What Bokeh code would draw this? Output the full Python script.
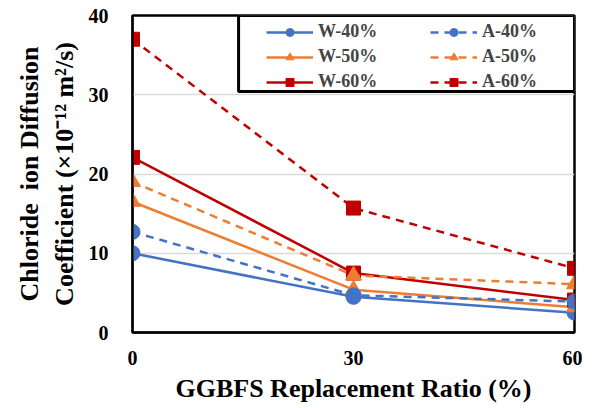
from bokeh.plotting import figure
from bokeh.models import Range1d, Legend, LegendItem, FixedTicker, BoxAnnotation
from bokeh.embed import file_html
from bokeh.resources import INLINE

x = [0, 30, 60]
w40 = [10.0, 4.5, 2.5]
a40 = [12.7, 4.7, 3.9]
w50 = [16.5, 5.4, 3.2]
a50 = [19.0, 7.2, 6.1]
w60 = [22.1, 7.5, 4.1]
a60 = [37.0, 15.7, 8.1]

blue = "#4472C4"
orange = "#ED7D31"
red = "#C00000"

p = figure(width=582, height=406, output_backend="svg", toolbar_location=None,
           x_range=Range1d(0, 60), y_range=Range1d(0, 40),
           min_border_left=132, min_border_right=8, min_border_top=15, min_border_bottom=74)

font = "Liberation Serif"
items = []
series = [
    ("W-40%", w40, blue, "circle", "solid", 15),
    ("W-50%", w50, orange, "triangle", "solid", 16),
    ("W-60%", w60, red, "square", "solid", 14),
    ("A-40%", a40, blue, "circle", "8 6", 15),
    ("A-50%", a50, orange, "triangle", "8 6", 16),
    ("A-60%", a60, red, "square", "8 6", 14),
]
for name, ys, c, m, dash, sz in series:
    l = p.line(x, ys, line_color=c, line_width=2.5, line_dash=dash)
    s = p.scatter(x, ys, marker=m, size=sz, fill_color=c, line_color=c)
    items.append(LegendItem(label=name, renderers=[l, s]))

box = BoxAnnotation(left=14.4, right=60, bottom=30.4, top=40,
                    fill_color="white", fill_alpha=1.0,
                    line_color="black", line_width=3, line_alpha=1.0)
p.add_layout(box)

legend = Legend(items=items, ncols=2, location=(134, 240))
legend.label_text_font = font
legend.label_text_font_style = "bold"
legend.label_text_font_size = "18px"
legend.border_line_color = None
legend.background_fill_alpha = 0
legend.margin = 0
legend.padding = 4
legend.spacing = 4
legend.glyph_width = 47
legend.glyph_height = 20
legend.label_height = 20
legend.label_standoff = 5
legend.label_width = 108
p.add_layout(legend)

p.outline_line_color = "black"
p.outline_line_width = 2.5
p.xgrid.grid_line_color = None
p.ygrid.grid_line_color = "#d9d9d9"
p.ygrid.grid_line_width = 1.5

p.xaxis.ticker = FixedTicker(ticks=[0, 30, 60])
p.yaxis.ticker = FixedTicker(ticks=[0, 10, 20, 30, 40])
for ax in (p.xaxis[0], p.yaxis[0]):
    ax.axis_line_color = "black"
    ax.axis_line_width = 2
    ax.major_tick_line_color = None
    ax.minor_tick_line_color = None
    ax.major_label_text_font = font
    ax.major_label_text_font_style = "bold"
    ax.major_label_text_font_size = "20px"
    ax.axis_label_text_font = font
    ax.axis_label_text_font_style = "bold"
    ax.axis_label_text_font_size = "26px"
    ax.axis_label_text_color = "black"
    ax.major_label_text_color = "black"

p.xaxis.axis_label = "GGBFS Replacement Ratio (%)"
p.yaxis.axis_label = "Chloride\u00a0 ion Diffusion\nCoefficient (\u00d710\u207b\u00b9\u00b2 m\u00b2/s)"
p.yaxis.axis_label_text_line_height = 1.2
p.xaxis.major_label_standoff = 12
p.yaxis.major_label_standoff = 18
p.xaxis.axis_label_standoff = 6
p.yaxis.axis_label_standoff = 7

open("out.html", "w").write(file_html(p, INLINE))
